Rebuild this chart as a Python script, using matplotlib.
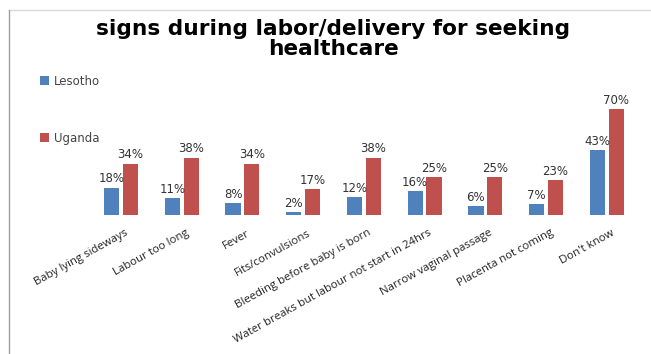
import numpy as np
import matplotlib.pyplot as plt
from matplotlib.lines import Line2D
from matplotlib.transforms import ScaledTranslation

# survey answers, percent of respondents
signs = [
    "Baby lying sideways",
    "Labour too long",
    "Fever",
    "Fits/convulsions",
    "Bleeding before baby is born",
    "Water breaks but labour not start in 24hrs",
    "Narrow vaginal passage",
    "Placenta not coming",
    "Don't know",
]
lesotho = [18, 11, 8, 2, 12, 16, 6, 7, 43]
uganda = [34, 38, 34, 17, 38, 25, 25, 23, 70]

BLUE = "#4F81BD"
RED = "#C0504D"


def main():
    plt.rcParams['font.family'] = ['Open Sans', 'DejaVu Sans']

    fig = plt.figure(figsize=(6.51, 3.54), dpi=100)
    ax = fig.add_axes([0.0925, 0.3927, 0.89, 0.3418])

    x = np.arange(len(signs))
    w = 0.25
    b1 = ax.bar(x - 0.155, lesotho, w, color=BLUE, label="Lesotho")
    b2 = ax.bar(x + 0.155, uganda, w, color=RED, label="Uganda")

    for bars, vals in ((b1, lesotho), (b2, uganda)):
        for rect, v in zip(bars, vals):
            ax.text(rect.get_x() + rect.get_width() / 2, v + 1.5, f"{v}%",
                    ha="center", va="bottom", fontsize=8.5, color="#333333",
                    family="DejaVu Sans")

    ax.set_xlim(-1.0, 8.54)
    ax.set_ylim(0, 80)
    ax.set_xticks(x)
    ax.set_xticklabels(signs, rotation=29, ha="right", rotation_mode="anchor",
                       fontsize=8.2, color="#222222")
    ax.tick_params(axis="x", length=0, pad=9)
    # slanted labels end just right of each group's centre
    shift = ScaledTranslation(0.04, 0, fig.dpi_scale_trans)
    for lbl in ax.get_xticklabels():
        lbl.set_transform(lbl.get_transform() + shift)
    ax.set_yticks([])
    for s in ax.spines.values():
        s.set_visible(False)

    fig.legend(handles=[b1, b2], loc="upper left", bbox_to_anchor=(0.045, 0.818),
               frameon=False, prop={"family": "DejaVu Sans", "size": 8.5},
               labelspacing=3.7, labelcolor="#444444",
               handlelength=0.8, handleheight=0.8, handletextpad=0.4)

    fig.text(0.512, 0.945, "signs during labor/delivery for seeking\nhealthcare",
             ha="center", va="top", fontsize=15.6, fontweight="bold",
             family="DejaVu Sans", linespacing=1.0)

    # outer frame: top and left edges only
    fig.add_artist(Line2D([0.014, 1.0], [0.972, 0.972], color="#d9d9d9", lw=1))
    fig.add_artist(Line2D([0.014, 0.014], [0.0, 0.972], color="#a0a0a0", lw=1))

    fig.savefig("out.png", dpi=100)


if __name__ == "__main__":
    main()
